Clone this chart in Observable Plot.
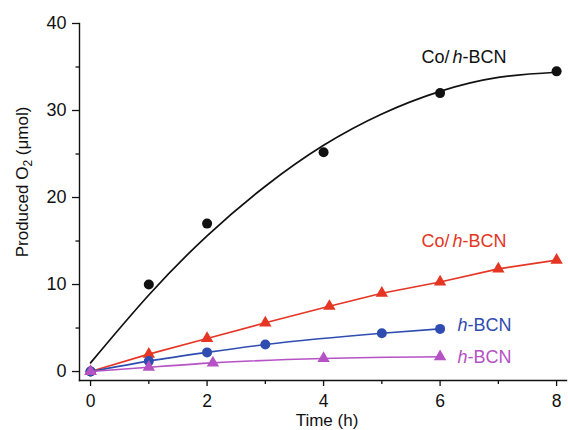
<!DOCTYPE html>
<html><head><meta charset="utf-8">
<script src="https://cdn.jsdelivr.net/npm/d3@7"></script>
<script src="https://cdn.jsdelivr.net/npm/@observablehq/plot@0.6"></script>
<style>
body{margin:0;background:#fff}
svg{font-family:"Liberation Sans",Arial,sans-serif}
</style>
</head><body><div id="chart"></div>
<script>
const coTime = [0, 1, 2, 4, 6, 8];
const coO2 = [0, 10, 17, 25.2, 32, 34.5];
const coFitTime = [0, 1, 2, 3, 4, 5, 6, 7, 8];
const coFitO2 = [1, 8.8, 15.6, 21.3, 26, 29.6, 32.2, 33.8, 34.4];
// Co/h-BCN (red triangles)
const redTime = [0, 1, 2, 3, 4.1, 5, 6, 7, 8];
const redO2 = [0, 2, 3.8, 5.6, 7.5, 9, 10.3, 11.8, 12.8];
// h-BCN (blue circles)
const blueTime = [0, 1, 2, 3, 5, 6];
const blueO2 = [0, 1.2, 2.2, 3.1, 4.4, 4.9];
// h-BCN (magenta triangles)
const pinkTime = [0, 1, 2.1, 4, 6];
const pinkO2 = [0, 0.5, 1.0, 1.5, 1.7];
// axis ticks
const xMajor = [0, 2, 4, 6, 8];
const xMinor = [1, 3, 5, 7];
const yMajor = [0, 10, 20, 30, 40];
const yMinor = [5, 15, 25, 35];
// series labels
const labelText = ["Co/h-BCN", "Co/h-BCN", "h-BCN", "h-BCN"];
const labelColor = ["#111111", "#e53523", "#2f4db0", "#b552c4"];

const BLACK = labelColor[0], RED = labelColor[1], BLUE = labelColor[2], PINK = labelColor[3];
const toRows = (xs, ys) => xs.map((x, i) => ({x, y: ys[i]}));
const co = toRows(coTime, coO2), coFit = toRows(coFitTime, coFitO2);
const red = toRows(redTime, redO2), blue = toRows(blueTime, blueO2), pink = toRows(pinkTime, pinkO2);
const labels = [
  {x: 5.68, y: 36.15, t: labelText[0], c: labelColor[0]},
  {x: 5.68, y: 15.03, t: labelText[1], c: labelColor[1]},
  {x: 6.30, y: 5.29, t: labelText[2], c: labelColor[2]},
  {x: 6.30, y: 1.61, t: labelText[3], c: labelColor[3]}
];

const chart = Plot.plot({
  width: 568, height: 430,
  marginLeft: 79, marginRight: 2, marginTop: 23, marginBottom: 50,
  style: {fontSize: "18px", fontFamily: "'Liberation Sans', Arial, sans-serif", color: "#111"},
  x: {domain: [-0.19, 8.17], axis: null},
  y: {domain: [-1.03, 40], axis: null},
  marks: [
    Plot.axisX(xMajor, {tickSize: 6, tickPadding: 8, label: null, fontSize: 17.5, stroke: "#111", strokeWidth: 1.3}),
    Plot.axisX(xMinor, {tickSize: 4, text: null, label: null, stroke: "#111", strokeWidth: 1.3}),
    Plot.axisY(yMajor, {tickSize: 7, tickPadding: 6, label: null, fontSize: 18, stroke: "#111", strokeWidth: 1.3}),
    Plot.axisY(yMinor, {tickSize: 3.5, text: null, label: null, stroke: "#111", strokeWidth: 1.3}),
    Plot.frame({anchor: "bottom", stroke: "#111", strokeWidth: 1.4}),
    Plot.frame({anchor: "left", stroke: "#111", strokeWidth: 1.4}),
    Plot.line(coFit, {x: "x", y: "y", stroke: BLACK, strokeWidth: 1.7, curve: "natural"}),
    Plot.dot(co, {x: "x", y: "y", r: 5, fill: BLACK, symbol: "circle"}),
    Plot.line(red, {x: "x", y: "y", stroke: RED, strokeWidth: 1.6}),
    Plot.dot(red, {x: "x", y: "y", r: 4.6, fill: RED, symbol: "triangle"}),
    Plot.line(blue, {x: "x", y: "y", stroke: BLUE, strokeWidth: 1.6, curve: "monotone-x"}),
    Plot.dot(blue, {x: "x", y: "y", r: 5, fill: BLUE, symbol: "circle"}),
    Plot.line(pink, {x: "x", y: "y", stroke: PINK, strokeWidth: 1.6, curve: "monotone-x"}),
    Plot.dot(pink, {x: "x", y: "y", r: 4.6, fill: PINK, symbol: "triangle"}),
    Plot.text(labels, {x: "x", y: "y", text: "t", fill: "c", textAnchor: "start", fontSize: 18, className: "slabel"})
  ]
});

const svg = d3.select(chart);
// italic "h" in series labels
svg.selectAll("g.slabel text").each(function() {
  const s = this.textContent;
  const i = s.indexOf("h-");
  const t = d3.select(this);
  t.text(null);
  t.append("tspan").text(s.slice(0, i));
  t.append("tspan").attr("font-style", "italic").attr("dx", i > 0 ? 3 : 0).text("h");
  t.append("tspan").text(s.slice(i + 1));
});
// axis titles
const yt = svg.append("text")
  .attr("transform", "translate(28,182) rotate(-90)")
  .attr("text-anchor", "middle").attr("font-size", 17).attr("fill", "#111");
yt.append("tspan").text("Produced O");
yt.append("tspan").attr("font-size", 12).attr("dy", 4).text("2");
yt.append("tspan").attr("dy", -4).text(" (\u03bcmol)");
svg.append("text").attr("x", 327).attr("y", 426).attr("text-anchor", "middle")
  .attr("font-size", 17).attr("fill", "#111").text("Time (h)");

document.getElementById("chart").appendChild(chart);
</script>
</body></html>
